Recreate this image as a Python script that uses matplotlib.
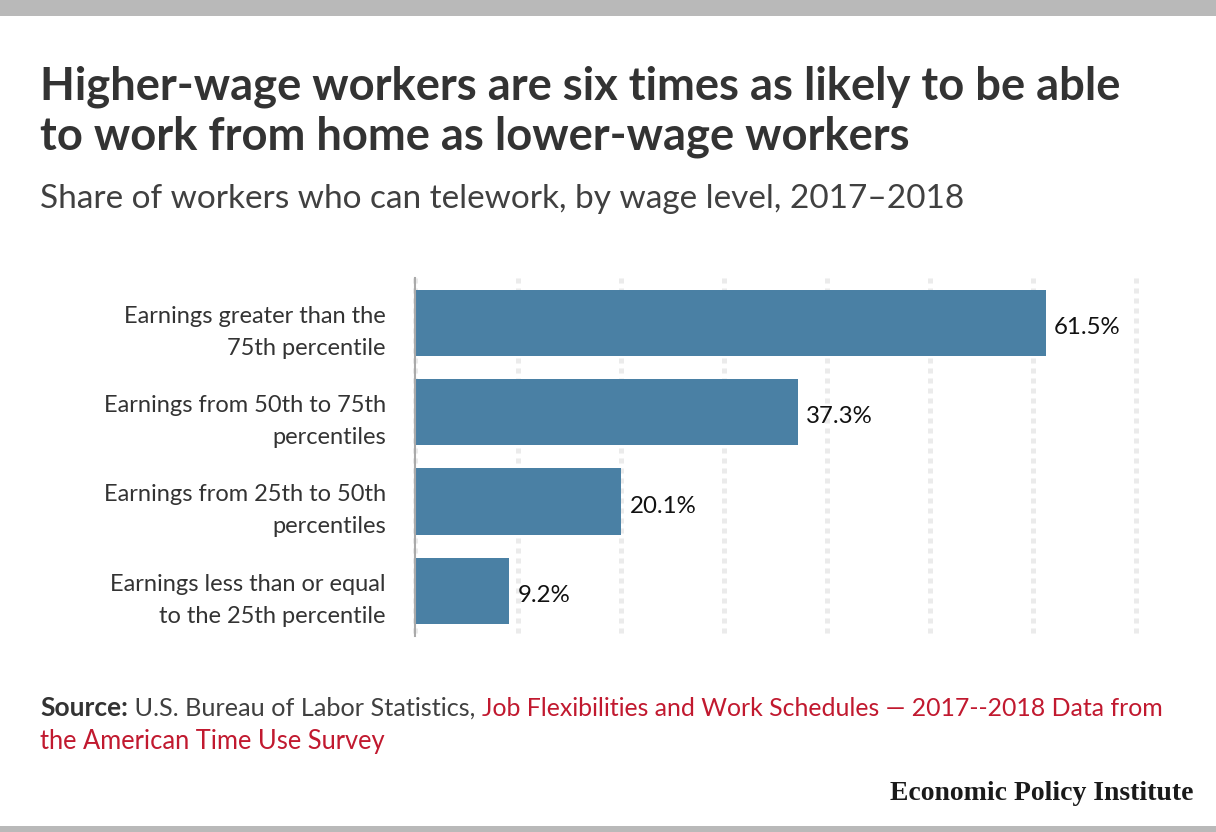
import matplotlib
matplotlib.use("Agg")
import matplotlib.pyplot as plt
from matplotlib.patches import Rectangle
from matplotlib.transforms import ScaledTranslation

categories = [
    "Earnings greater than the\n75th percentile",
    "Earnings from 50th to 75th\npercentiles",
    "Earnings from 25th to 50th\npercentiles",
    "Earnings less than or equal\nto the 25th percentile",
]
values = [61.5, 37.3, 20.1, 9.2]
# unlabelled guide lines, their spacing
grid_ticks = [0, 10.04, 20.08, 30.12, 40.16, 50.2, 60.24, 70.28]

title = "Higher-wage workers are six times as likely to be able\nto work from home as lower-wage workers"
subtitle = "Share of workers who can telework, by wage level, 2017–2018"

W, H = 1216, 832
FONT = "Lato"
plt.rcParams["font.family"] = FONT


def fx(px):
    return px / W


def fy(py):
    return 1 - py / H


fig = plt.figure(figsize=(W / 100, H / 100), dpi=100, facecolor="white")

# gray bands at top and bottom
fig.add_artist(Rectangle((0, fy(16)), 1, 16 / H, transform=fig.transFigure, color="#b9b9b9", lw=0))
fig.add_artist(Rectangle((0, 0), 1, 6 / H, transform=fig.transFigure, color="#b9b9b9", lw=0))

fig.text(fx(40), fy(100), title.split("\n")[0], fontsize=32.7, fontweight="bold", color="#333333", va="baseline")
fig.text(fx(40), fy(149), title.split("\n")[1], fontsize=32.7, fontweight="bold", color="#333333", va="baseline")
fig.text(fx(40), fy(208), subtitle, fontsize=24, color="#404040", va="baseline")

ax = fig.add_axes([fx(415), fy(635.5), (1135.9 - 415) / W, (635.5 - 278) / H])
ax.set_xlim(0, 70.28)
ax.set_ylim(3.5, -0.5)
ax.patch.set_alpha(0)
for s in ["top", "right", "bottom"]:
    ax.spines[s].set_visible(False)
ax.spines["left"].set_color("#aaaaaa")
ax.spines["left"].set_linewidth(1.5)
ax.spines["left"].set_zorder(4)

for t in grid_ticks:
    ax.plot([t, t], [-0.5, 3.5], color="#ebebeb", lw=3.6, dashes=(1, 1), zorder=1, clip_on=False, solid_capstyle="butt")

ax.barh(range(len(values)), values, height=0.74, color="#4a80a4", zorder=3)
for i, v in enumerate(values):
    ax.annotate(f"{v}%", (v, i), xytext=(6, -3.5), textcoords="offset points", va="center", ha="left",
                fontsize=17.3, color="#111111")

ax.set_xticks([])
ax.set_yticks(range(len(categories)))
ax.set_yticklabels(categories, fontsize=17, color="#333333", linespacing=1.65, ha="right")
ax.tick_params(axis="y", length=0, pad=21)
# labels sit a little below the bar centres
for lab in ax.get_yticklabels():
    lab.set_transform(lab.get_transform() + ScaledTranslation(0, -2 / 100, fig.dpi_scale_trans))

# source line, three runs of different weight and colour
renderer = fig.canvas.get_renderer()
x = 40
for txt, weight, col, size in [("Source:", "bold", "#333333", 19),
                               (" U.S. Bureau of Labor Statistics, ", "normal", "#404040", 18.2),
                               ("Job Flexibilities and Work Schedules — 2017--2018 Data from", "normal", "#c1192f", 17.95)]:
    t = fig.text(fx(x), fy(716), txt.replace(" ", "\u00a0"), fontsize=size, fontweight=weight, color=col, va="baseline")
    x += t.get_window_extent(renderer).width
fig.text(fx(40), fy(749), "the American Time Use Survey", fontsize=18.4, color="#c1192f", va="baseline")

fig.text(fx(1194), fy(800), "Economic Policy Institute", family="Liberation Serif", fontweight="bold",
         fontsize=20, color="#1a1a1a", ha="right", va="baseline")

fig.savefig("out.png", dpi=100, facecolor="white")
